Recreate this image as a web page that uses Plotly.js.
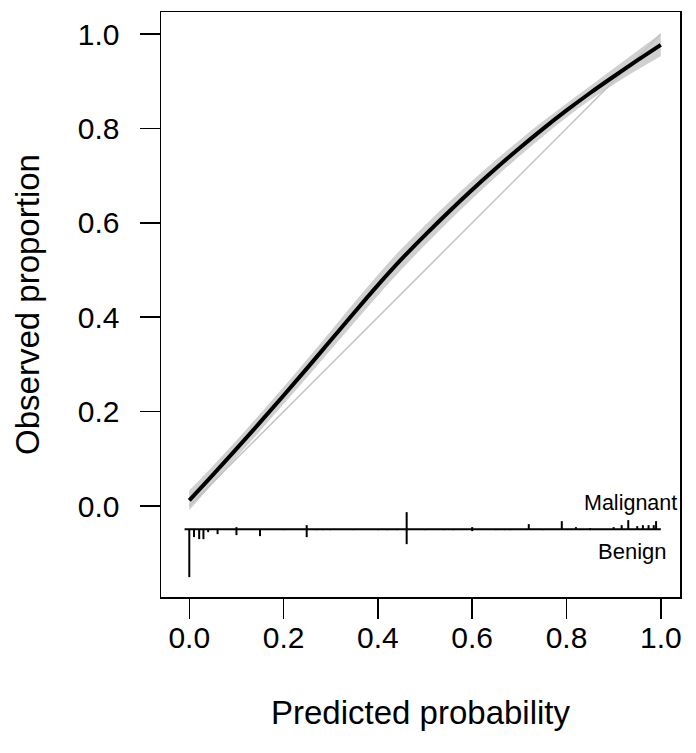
<!DOCTYPE html>
<html>
<head>
<meta charset="utf-8">
<script src="https://cdn.plot.ly/plotly-3.0.1.min.js"></script>
<style>html,body{margin:0;padding:0;background:#fff;}#chart{width:696px;height:753px;}</style>
</head>
<body>
<div id="chart"></div>
<script>
// Calibration curve (predicted probability -> observed proportion) with confidence band
const predX   = [0.00,0.05,0.10,0.15,0.20,0.25,0.30,0.35,0.40,0.45,0.50,0.55,0.60,0.65,0.70,0.75,0.80,0.85,0.90,0.95,1.00];
const observed= [0.012,0.066,0.121,0.177,0.234,0.292,0.351,0.410,0.468,0.523,0.574,0.623,0.670,0.715,0.758,0.799,0.838,0.875,0.910,0.944,0.977];
const bandLow = [-0.009,0.047,0.103,0.159,0.216,0.273,0.331,0.389,0.446,0.501,0.553,0.603,0.651,0.697,0.741,0.783,0.823,0.860,0.893,0.924,0.953];
const bandHigh= [0.033,0.085,0.139,0.195,0.252,0.311,0.371,0.431,0.490,0.545,0.595,0.643,0.689,0.733,0.775,0.815,0.853,0.890,0.927,0.964,1.001];

// Ideal (diagonal) reference
const idealX = [0, 1];
const idealY = [0, 1];

// Spike histogram of predicted probabilities by outcome
const rugRange = [-0.01, 1.0];
const rugLevel = -0.049;
const malignantX = [0.100,0.249,0.461,0.600,0.720,0.790,0.820,0.850,0.900,0.917,0.931,0.950,0.962,0.974,0.985,0.990];
const malignantN = [2,4,17,2,5,8,2,1,2,4,9,3,4,4,4,8];
const benignX = [0.000,0.010,0.021,0.030,0.040,0.060,0.100,0.150,0.200,0.249,0.270,0.284,0.298,0.348,0.400,0.420,0.440,0.461,0.500,0.540,0.560,0.600,0.650,0.670,0.680,0.750,0.850];
const benignN = [48,8,10,10,3,5,6,7,1,8,1,1,1,1,1,1,1,15,1,1,1,2,1,1,1,1,1];

const groupLabels = ['Malignant', 'Benign'];
const xTicks = [0, 0.2, 0.4, 0.6, 0.8, 1.0];
const xTickText = ['0.0', '0.2', '0.4', '0.6', '0.8', '1.0'];
const yTicks = [0, 0.2, 0.4, 0.6, 0.8, 1.0];
const yTickText = ['0.0', '0.2', '0.4', '0.6', '0.8', '1.0'];

const spikeScale = 1 / 472; // length of a spike per unit count, in y units

function spikes(xs, ns, dir) {
  const x = [], y = [];
  xs.forEach((v, i) => {
    x.push(v, v, null);
    y.push(rugLevel, rugLevel + dir * ns[i] * spikeScale, null);
  });
  return {x, y};
}
const mal = spikes(malignantX, malignantN, 1);
const ben = spikes(benignX, benignN, -1);

const FONT = 'Liberation Sans, Arial, Helvetica, sans-serif';

const traces = [
  {x: predX, y: bandLow, type: 'scatter', mode: 'lines', line: {width: 0, color: 'rgba(0,0,0,0)', shape: 'spline', smoothing: 1}, hoverinfo: 'skip', showlegend: false},
  {x: predX, y: bandHigh, type: 'scatter', mode: 'lines', fill: 'tonexty', fillcolor: '#d0d0d0', line: {width: 0, color: 'rgba(0,0,0,0)', shape: 'spline', smoothing: 1}, hoverinfo: 'skip', showlegend: false},
  {x: idealX, y: idealY, type: 'scatter', mode: 'lines', line: {color: '#c2c2c2', width: 1.5}, showlegend: false},
  {x: predX, y: observed, type: 'scatter', mode: 'lines', line: {color: '#000000', width: 4, shape: 'spline', smoothing: 1}, showlegend: false},
  {x: rugRange, y: [rugLevel, rugLevel], type: 'scatter', mode: 'lines', line: {color: '#000000', width: 2}, showlegend: false},
  {x: mal.x, y: mal.y, type: 'scatter', mode: 'lines', line: {color: '#000000', width: 2}, showlegend: false, connectgaps: false},
  {x: ben.x, y: ben.y, type: 'scatter', mode: 'lines', line: {color: '#000000', width: 2}, showlegend: false, connectgaps: false}
];

const axisCommon = {
  showgrid: false, zeroline: false, showline: true, linecolor: '#000', linewidth: 1.5, mirror: true,
  ticks: 'outside', ticklen: 20, tickwidth: 1.5, tickcolor: '#000',
  tickfont: {family: FONT, size: 30, color: '#000'}
};

const layout = {
  width: 696, height: 753,
  margin: {l: 161, r: 16, t: 12, b: 156},
  paper_bgcolor: '#fff', plot_bgcolor: '#fff',
  showlegend: false,
  xaxis: Object.assign({}, axisCommon, {
    range: [-0.060, 1.0407], tickmode: 'array', tickvals: xTicks, ticktext: xTickText,
    ticklabelstandoff: -7,
    title: {text: 'Predicted probability', font: {family: FONT, size: 33, color: '#000'}, standoff: 48}
  }),
  yaxis: Object.assign({}, axisCommon, {
    range: [-0.1928, 1.0466], tickmode: 'array', tickvals: yTicks, ticktext: yTickText,
    ticklabelstandoff: 14,
    title: {text: 'Observed proportion', font: {family: FONT, size: 33, color: '#000'}, standoff: 28}
  }),
  annotations: [
    {x: 1.038, y: 0.006, xref: 'x', yref: 'y', text: groupLabels[0], showarrow: false, xanchor: 'right', yanchor: 'middle', font: {family: FONT, size: 21.5, color: '#000'}},
    {x: 1.017, y: -0.097, xref: 'x', yref: 'y', text: groupLabels[1], showarrow: false, xanchor: 'right', yanchor: 'middle', font: {family: FONT, size: 22, color: '#000'}}
  ]
};

Plotly.newPlot('chart', traces, layout, {staticPlot: true, displayModeBar: false});
</script>
</body>
</html>
